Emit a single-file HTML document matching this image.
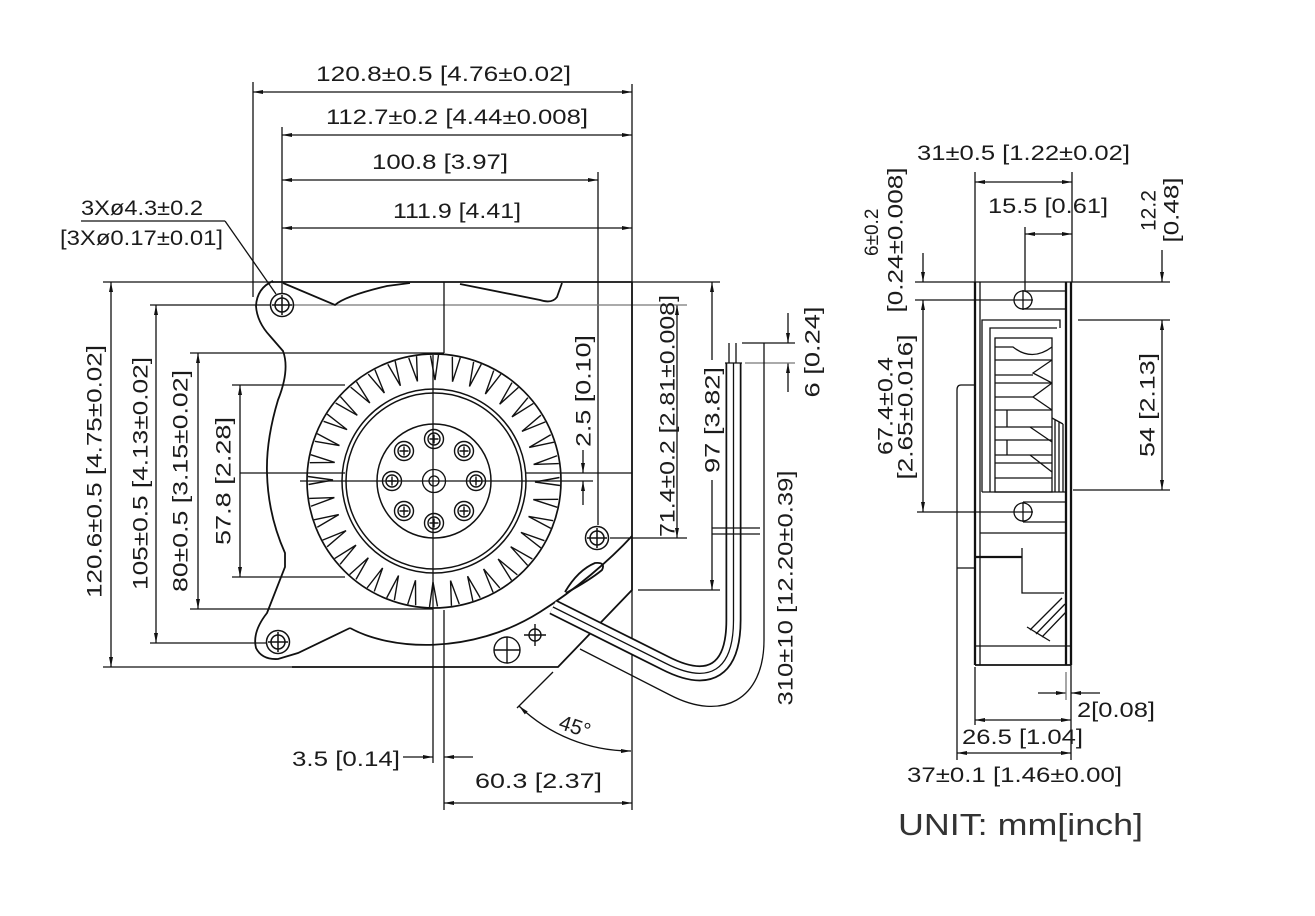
<!DOCTYPE html>
<html><head><meta charset="utf-8"><style>
html,body{margin:0;padding:0;background:#fff;}
svg{display:block;}
text{font-family:"Liberation Sans",Arial,sans-serif;fill:#1b1b1b;font-size:21px;}
</style></head><body>
<svg width="1315" height="916" viewBox="0 0 1315 916" xmlns="http://www.w3.org/2000/svg">
<defs>
<marker id="ar" viewBox="0 0 10 4" refX="10" refY="2" markerWidth="10" markerHeight="4" markerUnits="userSpaceOnUse" orient="auto-start-reverse"><path d="M0,0L10,2L0,4z" fill="#111"/></marker>
<path id="bl" d="M430.5 355.5 L435 380 L438.5 355" fill="none" stroke="#111" stroke-width="1.4"/>
<g id="h" fill="none" stroke="#111" stroke-width="1.5"><circle r="11.5"/><circle r="7"/><path d="M-10 0H10M0 -10V10"/></g>
<g id="sc" fill="none" stroke="#111" stroke-width="1.4"><circle r="9.5"/><circle r="6"/><path d="M-4.5 0H4.5M0 -4.5V4.5"/></g>
</defs>
<rect width="1315" height="916" fill="#fff"/>

<g fill="none" stroke="#111" stroke-width="1.3">
<g marker-start="url(#ar)" marker-end="url(#ar)">
<line x1="253" y1="92" x2="632" y2="92"/>
<line x1="282" y1="135" x2="632" y2="135"/>
<line x1="282" y1="180" x2="598" y2="180"/>
<line x1="282" y1="228" x2="632" y2="228"/>
<line x1="111" y1="282" x2="111" y2="667"/>
<line x1="156" y1="305" x2="156" y2="643"/>
<line x1="198" y1="353" x2="198" y2="609"/>
<line x1="240" y1="385" x2="240" y2="577"/>
<line x1="444" y1="803" x2="632" y2="803"/>
<line x1="677" y1="305" x2="677" y2="538"/>
</g>
<line x1="253" y1="82" x2="253" y2="297"/>
<line x1="282" y1="127" x2="282" y2="294"/>
<line x1="632" y1="84" x2="632" y2="282"/>
<line x1="598" y1="172" x2="598" y2="525"/>
<line x1="103" y1="282" x2="274" y2="282"/>
<line x1="103" y1="667" x2="300" y2="667"/>
<line x1="150" y1="305" x2="270" y2="305"/>
<line x1="292" y1="305" x2="687" y2="305" stroke="#777"/>
<line x1="150" y1="643" x2="266" y2="643"/>
<line x1="190" y1="353" x2="444" y2="353"/>
<line x1="190" y1="609" x2="433" y2="609"/>
<line x1="232" y1="385" x2="345" y2="385"/>
<line x1="232" y1="577" x2="345" y2="577"/>
<line x1="444" y1="282" x2="444" y2="353"/>
<line x1="444" y1="610" x2="444" y2="810"/>
<line x1="433" y1="355" x2="433" y2="763"/>
<line x1="240" y1="473" x2="345" y2="473"/>
<line x1="525" y1="473" x2="632" y2="473"/>
<line x1="300" y1="481" x2="593" y2="481"/>
<line x1="583" y1="450" x2="583" y2="473" marker-end="url(#ar)"/>
<line x1="583" y1="505" x2="583" y2="481" marker-end="url(#ar)"/>
<line x1="403" y1="757" x2="433" y2="757" marker-end="url(#ar)"/>
<line x1="473" y1="757" x2="444" y2="757" marker-end="url(#ar)"/>
<line x1="632" y1="590" x2="632" y2="810"/>
<line x1="517" y1="708" x2="553" y2="672"/>
<path d="M519 706 A161 161 0 0 0 631 751" marker-start="url(#ar)" marker-end="url(#ar)"/>
<line x1="81" y1="221" x2="225" y2="221"/>
<line x1="225" y1="221" x2="276" y2="294"/>
<line x1="632" y1="282" x2="720" y2="282"/>
<line x1="610" y1="538" x2="687" y2="538"/>
<line x1="712" y1="360" x2="712" y2="282" marker-end="url(#ar)"/>
<line x1="712" y1="480" x2="712" y2="590" marker-end="url(#ar)"/>
<line x1="638" y1="590" x2="720" y2="590"/>
<line x1="788" y1="313" x2="788" y2="343" marker-end="url(#ar)"/>
<line x1="788" y1="392" x2="788" y2="363" marker-end="url(#ar)"/>
<line x1="742" y1="343" x2="795" y2="343"/>
<line x1="745" y1="363" x2="795" y2="363" stroke="#777"/>
<path d="M764 343 L764 640 C764 700 722 722 670 695 L580 649"/>

<g stroke-width="1.8">
<line x1="272" y1="282" x2="632" y2="282"/>
<path d="M632 282 L632 590 L558 667 L292 667"/>
<path d="M273 281 Q257 288 256 306 Q257 322 270 336 L283 351 Q290 370 278 400 Q266 440 267 473 Q268 515 285 553 L285 567 L267 613 Q252 632 256 648 Q262 660 278 659 L298 653 L350 628"/>
<path d="M350 628 C390 650 470 656 540 612 C575 590 610 560 632 536"/>
<path d="M565 592 Q578 570 595 563 Q606 562 602 570 Q590 580 566 593"/>
<path d="M283 283 L335 305 Q345 296 387 286 L410 283"/>
<path d="M460 284 L540 300 Q552 304 557 297 L562 283"/>
</g>
<path d="M553 607 L665 663 C710 686 733.5 670 733.5 620 L733.5 363" stroke-width="16"/>
<path d="M553 607 L665 663 C710 686 733.5 670 733.5 620 L733.5 362" stroke="#fff" stroke-width="12.5"/>
<path d="M553 607 L665 663 C710 686 733.5 670 733.5 620 L733.5 363" stroke-width="1.3"/>
<line x1="725" y1="363" x2="742" y2="363"/>
<line x1="729" y1="343" x2="729" y2="363"/>
<line x1="736" y1="343" x2="736" y2="363"/>
<line x1="712" y1="528" x2="760" y2="528"/>
<line x1="712" y1="534" x2="760" y2="534"/>

<circle cx="434" cy="481" r="127" stroke-width="1.7"/>
<circle cx="434" cy="481" r="92" stroke-width="1.5"/>
<circle cx="434" cy="481" r="88" stroke-width="1.5"/>
<circle cx="434" cy="481" r="57" stroke-width="1.5"/>
<circle cx="434" cy="481" r="11.5"/>
<circle cx="434" cy="481" r="5"/>
</g>
<g>
<use href="#bl"/><use href="#bl" transform="rotate(10 434 481)"/><use href="#bl" transform="rotate(20 434 481)"/><use href="#bl" transform="rotate(30 434 481)"/><use href="#bl" transform="rotate(40 434 481)"/><use href="#bl" transform="rotate(50 434 481)"/><use href="#bl" transform="rotate(60 434 481)"/><use href="#bl" transform="rotate(70 434 481)"/><use href="#bl" transform="rotate(80 434 481)"/><use href="#bl" transform="rotate(90 434 481)"/><use href="#bl" transform="rotate(100 434 481)"/><use href="#bl" transform="rotate(110 434 481)"/><use href="#bl" transform="rotate(120 434 481)"/><use href="#bl" transform="rotate(130 434 481)"/><use href="#bl" transform="rotate(140 434 481)"/><use href="#bl" transform="rotate(150 434 481)"/><use href="#bl" transform="rotate(160 434 481)"/><use href="#bl" transform="rotate(170 434 481)"/><use href="#bl" transform="rotate(180 434 481)"/><use href="#bl" transform="rotate(190 434 481)"/><use href="#bl" transform="rotate(200 434 481)"/><use href="#bl" transform="rotate(210 434 481)"/><use href="#bl" transform="rotate(220 434 481)"/><use href="#bl" transform="rotate(230 434 481)"/><use href="#bl" transform="rotate(240 434 481)"/><use href="#bl" transform="rotate(250 434 481)"/><use href="#bl" transform="rotate(260 434 481)"/><use href="#bl" transform="rotate(270 434 481)"/><use href="#bl" transform="rotate(280 434 481)"/><use href="#bl" transform="rotate(290 434 481)"/><use href="#bl" transform="rotate(300 434 481)"/><use href="#bl" transform="rotate(310 434 481)"/><use href="#bl" transform="rotate(320 434 481)"/><use href="#bl" transform="rotate(330 434 481)"/><use href="#bl" transform="rotate(340 434 481)"/><use href="#bl" transform="rotate(350 434 481)"/>
</g>
<g>
<use href="#sc" x="476" y="481"/><use href="#sc" x="464" y="511"/><use href="#sc" x="434" y="523"/><use href="#sc" x="404" y="511"/><use href="#sc" x="392" y="481"/><use href="#sc" x="404" y="451"/><use href="#sc" x="434" y="439"/><use href="#sc" x="464" y="451"/>
<use href="#h" x="282" y="305"/><use href="#h" x="278" y="642"/><use href="#h" x="597" y="538"/>
</g>
<g fill="none" stroke="#111" stroke-width="1.4">
<circle cx="507" cy="650" r="13"/><path d="M494 650H520M507 637V663"/>
<circle cx="535" cy="635" r="6"/><path d="M524 635H546M535 624V646"/>
</g>

<g fill="none" stroke="#111" stroke-width="1.3">
<g marker-start="url(#ar)" marker-end="url(#ar)">
<line x1="975" y1="182" x2="1072" y2="182"/>
<line x1="1025" y1="234" x2="1072" y2="234"/>
<line x1="923" y1="512" x2="923" y2="300"/>
<line x1="1162" y1="490" x2="1162" y2="320"/>
<line x1="975" y1="720" x2="1071" y2="720"/>
<line x1="957" y1="753" x2="1071" y2="753"/>
</g>
<line x1="923" y1="253" x2="923" y2="282" marker-end="url(#ar)"/>
<line x1="1162" y1="250" x2="1162" y2="282" marker-end="url(#ar)"/>
<line x1="1038" y1="693" x2="1066" y2="693" marker-end="url(#ar)"/>
<line x1="1100" y1="693" x2="1071" y2="693" marker-end="url(#ar)"/>
<line x1="975" y1="172" x2="975" y2="282"/>
<line x1="1072" y1="172" x2="1072" y2="282"/>
<line x1="1025" y1="227" x2="1025" y2="291"/>
<line x1="915" y1="282" x2="975" y2="282"/>
<line x1="1071" y1="282" x2="1170" y2="282"/>
<line x1="915" y1="300" x2="1013" y2="300"/>
<line x1="1078" y1="320" x2="1170" y2="320"/>
<line x1="1073" y1="490" x2="1170" y2="490"/>
<line x1="917" y1="512" x2="1013" y2="512"/>
<line x1="1066" y1="672" x2="1066" y2="700" stroke="#777"/>
<line x1="1071" y1="665" x2="1071" y2="760"/>
<line x1="975" y1="667" x2="975" y2="725"/>
<g stroke-width="2.3">
<line x1="975" y1="282" x2="975" y2="665"/>
<line x1="1066" y1="282" x2="1066" y2="665"/>
<line x1="1071" y1="282" x2="1071" y2="665"/>
<line x1="975" y1="557" x2="1022" y2="557"/>
</g>
<line x1="980" y1="282" x2="980" y2="665"/>
<line x1="975" y1="282" x2="1071" y2="282"/>
<line x1="975" y1="665" x2="1071" y2="665" stroke-width="1.8"/>
<line x1="975" y1="646" x2="1071" y2="646"/>
<circle cx="1023" cy="300" r="9"/><path d="M1013 300H1033M1023 290V310"/>
<path d="M1023 291H1066M1023 309H1066"/>
<path d="M982 492V320H1060V328M990 492V328H1057"/>
<rect x="995" y="338" width="57" height="154"/>
<path d="M995 347H1013 Q1032 362 1052 347"/>
<path d="M995 360H1052M995 375H1033M995 383H1052M995 397H1033M995 410H1052M995 427H1052M995 440H1052M995 455H1052M995 463H1052M995 478H1052"/>
<path d="M1052 360 L1033 373 L1052 383 M1052 383 L1033 397 L1052 410"/>
<path d="M1007 410V427M1007 440V455M1030 427 L1052 442M1030 455 L1052 472"/>
<path d="M1055 420V492M1059 422V492M1063 424V492M1052 418 L1063 424"/>
<line x1="982" y1="492" x2="1066" y2="492"/>
<circle cx="1023" cy="512" r="9"/><path d="M1013 512H1033M1023 502V522"/>
<path d="M1023 502H1066M1023 522H1066"/>
<line x1="980" y1="533" x2="1066" y2="533"/>
<path d="M1022 548V593H1064"/>
<path d="M1030 630 L1062 598 M1036 634 L1065 604 M1042 637 L1066 612 M1027 627 L1050 641"/>
<path d="M975 385 L961 385 Q957 385 957 390 L957 760 M957 568 L975 568"/>
</g>

<text x="316" y="81" textLength="255" lengthAdjust="spacingAndGlyphs">120.8±0.5 [4.76±0.02]</text>
<text x="326" y="124" textLength="262" lengthAdjust="spacingAndGlyphs">112.7±0.2 [4.44±0.008]</text>
<text x="372" y="169" textLength="136" lengthAdjust="spacingAndGlyphs">100.8 [3.97]</text>
<text x="393" y="218" textLength="128" lengthAdjust="spacingAndGlyphs">111.9 [4.41]</text>
<text x="81" y="215" textLength="122" lengthAdjust="spacingAndGlyphs">3Xø4.3±0.2</text>
<text x="60" y="245" textLength="163" lengthAdjust="spacingAndGlyphs">[3Xø0.17±0.01]</text>
<text x="292" y="766" textLength="108" lengthAdjust="spacingAndGlyphs">3.5 [0.14]</text>
<text x="475" y="788" textLength="127" lengthAdjust="spacingAndGlyphs">60.3 [2.37]</text>
<text transform="translate(576,727) rotate(18)" x="-17" y="7" style="font-size:21px">45°</text>

<text transform="translate(94,471.5) rotate(-90)" x="-126.5" y="7.5" textLength="253" lengthAdjust="spacingAndGlyphs">120.6±0.5 [4.75±0.02]</text>
<text transform="translate(140,473.5) rotate(-90)" x="-116.5" y="7.5" textLength="233" lengthAdjust="spacingAndGlyphs">105±0.5 [4.13±0.02]</text>
<text transform="translate(180,481) rotate(-90)" x="-111" y="7.5" textLength="222" lengthAdjust="spacingAndGlyphs">80±0.5 [3.15±0.02]</text>
<text transform="translate(223,481) rotate(-90)" x="-64" y="7.5" textLength="128" lengthAdjust="spacingAndGlyphs">57.8 [2.28]</text>
<text transform="translate(583,391) rotate(-90)" x="-56" y="7.5" textLength="112" lengthAdjust="spacingAndGlyphs">2.5 [0.10]</text>
<text transform="translate(667,416) rotate(-90)" x="-121" y="7.5" textLength="242" lengthAdjust="spacingAndGlyphs">71.4±0.2 [2.81±0.008]</text>
<text transform="translate(712,420) rotate(-90)" x="-53" y="7.5" textLength="106" lengthAdjust="spacingAndGlyphs">97 [3.82]</text>
<text transform="translate(812,352) rotate(-90)" x="-45.5" y="7.5" textLength="91" lengthAdjust="spacingAndGlyphs">6 [0.24]</text>
<text transform="translate(785,588) rotate(-90)" x="-117.5" y="7.5" textLength="235" lengthAdjust="spacingAndGlyphs">310±10 [12.20±0.39]</text>

<text x="917" y="160" textLength="213" lengthAdjust="spacingAndGlyphs">31±0.5 [1.22±0.02]</text>
<text x="988" y="213" textLength="120" lengthAdjust="spacingAndGlyphs">15.5 [0.61]</text>
<text transform="translate(1148,211) rotate(-90)" x="-20" y="7.5">12.2</text>
<text transform="translate(1171,210) rotate(-90)" x="-32.5" y="7.5" textLength="65" lengthAdjust="spacingAndGlyphs">[0.48]</text>
<text transform="translate(871,232) rotate(-90)" x="-24" y="7" style="font-size:19px">6±0.2</text>
<text transform="translate(895,240) rotate(-90)" x="-72.5" y="7.5" textLength="145" lengthAdjust="spacingAndGlyphs">[0.24±0.008]</text>
<text transform="translate(885,406) rotate(-90)" x="-49" y="7.5" textLength="98" lengthAdjust="spacingAndGlyphs">67.4±0.4</text>
<text transform="translate(905,407) rotate(-90)" x="-72.5" y="7.5" textLength="145" lengthAdjust="spacingAndGlyphs">[2.65±0.016]</text>
<text transform="translate(1147,405) rotate(-90)" x="-52" y="7.5" textLength="104" lengthAdjust="spacingAndGlyphs">54 [2.13]</text>
<text x="1077" y="717" textLength="78" lengthAdjust="spacingAndGlyphs">2[0.08]</text>
<text x="962" y="744" textLength="121" lengthAdjust="spacingAndGlyphs">26.5 [1.04]</text>
<text x="907" y="782" textLength="215" lengthAdjust="spacingAndGlyphs">37±0.1 [1.46±0.00]</text>
<text x="898" y="835" textLength="245" lengthAdjust="spacingAndGlyphs" style="font-size:31px;fill:#333">UNIT: mm[inch]</text>
</svg>
</body></html>
